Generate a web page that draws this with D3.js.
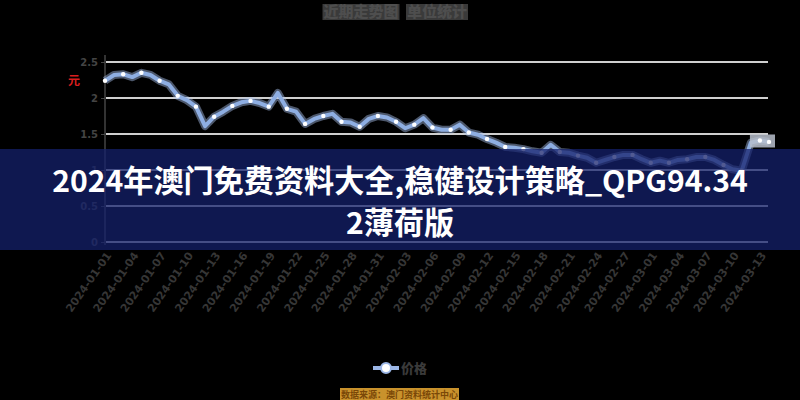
<!DOCTYPE html>
<html><head><meta charset="utf-8">
<script src="https://cdn.jsdelivr.net/npm/d3@7/dist/d3.min.js"></script>
<style>
html,body{margin:0;padding:0;background:#000;}
svg{display:block;}
</style></head>
<body>
<svg id="c" width="800" height="400"></svg>
<script>
// ---- data ----
const titleParts = ["近期走势图", "单位统计"];
const yUnit = "元";
const seriesName = "价格";
const sourceText = "数据来源：澳门资料统计中心";
const bannerLines = ["2024年澳门免费资料大全,稳健设计策略_QPG94.34", "2薄荷版"];
const yTicks = [0, 0.5, 1, 1.5, 2, 2.5];
const yTickLabels = ["0", "0.5", "1", "1.5", "2", "2.5"];
const categories = (function(){
  const out = []; const start = new Date(2024, 0, 1);
  for (let i = 0; i < 74; i++) {
    const d = new Date(start.getTime() + i * 86400000);
    out.push(d3.timeFormat("%Y-%m-%d")(d));
  }
  return out;
})();
const values = [2.24,2.32,2.33,2.29,2.35,2.32,2.24,2.19,2.03,1.97,
  1.88,1.61,1.74,1.81,1.89,1.94,1.96,1.93,1.88,2.07,
  1.85,1.81,1.64,1.71,1.75,1.78,1.67,1.66,1.60,1.71,
  1.75,1.73,1.67,1.58,1.63,1.72,1.59,1.56,1.56,1.63,
  1.52,1.49,1.43,1.38,1.32,1.31,1.29,1.26,1.24,1.35,
  1.25,1.24,1.20,1.17,1.10,1.14,1.18,1.21,1.21,1.15,
  1.10,1.13,1.10,1.14,1.15,1.18,1.18,1.14,1.07,1.01,
  0.99,1.38,1.41,1.39];

// ---- layout ----
const svg = d3.select("#c");
const W = 800, H = 400;
const plot = {left: 105, right: 769, top: 62, bottom: 242};
const gridRight = 768;

const x = d3.scalePoint().domain(categories).range([plot.left, plot.right]);
const y = d3.scaleLinear().domain([0, 2.5]).range([plot.bottom, plot.top]);

// title
const tg = svg.append("g");
const titleX = [361, 437];
titleParts.forEach((t, i) => {
  const txt = tg.append("text").attr("x", titleX[i]).attr("y", 17)
    .attr("text-anchor", "middle")
    .attr("font-family", "Noto Sans CJK SC")
    .attr("font-weight", 900).attr("font-size", 15)
    .attr("fill", "#4e4e4e").text(t);
  const bb = txt.node().getBBox();
  tg.insert("rect", "text").attr("x", bb.x - 1).attr("y", 4)
    .attr("width", bb.width + 2).attr("height", 16).attr("fill", "#3a3a3a");
});

// grid
svg.append("g").selectAll("line").data(yTicks).join("line")
  .attr("x1", plot.left).attr("x2", gridRight)
  .attr("y1", d => y(d)).attr("y2", d => y(d))
  .attr("stroke", "#cfcfcf").attr("stroke-width", 2);

// y axis
const yAxis = d3.axisLeft(y).tickValues(yTicks)
  .tickFormat((d, i) => yTickLabels[i]).tickSize(4).tickPadding(3);
const ya = svg.append("g").attr("transform", `translate(${plot.left},0)`).call(yAxis);
ya.select(".domain").attr("stroke", "#333").attr("stroke-width", 2)
  .attr("d", `M0,${plot.top - 7}V${plot.bottom + 3}`);
ya.selectAll(".tick line").attr("stroke", "#444");
ya.selectAll(".tick text").attr("fill", "#444")
  .attr("font-family", "DejaVu Sans").attr("font-weight", "bold").attr("font-size", 10);

// unit label (red)
svg.append("text").attr("x", 74).attr("y", 85).attr("text-anchor", "middle")
  .attr("font-family", "Noto Sans CJK SC").attr("font-weight", "bold")
  .attr("font-size", 12).attr("fill", "#d81e1e").text(yUnit);

// x axis labels
const xa = d3.axisBottom(x)
  .tickValues(categories.filter((d, i) => i % 3 === 0))
  .tickSize(0).tickPadding(0);
const xg = svg.append("g").attr("transform", `translate(0,${plot.bottom + 9})`).call(xa);
xg.select(".domain").remove();
xg.selectAll(".tick text")
  .attr("fill", "#363636").attr("font-family", "DejaVu Sans")
  .attr("font-weight", "bold").attr("font-size", 11)
  .attr("text-anchor", "end").attr("dy", "0.7em")
  .attr("transform", "rotate(-55)");

// line
const line = d3.line().x((d, i) => x(categories[i])).y(d => y(d));
svg.append("path").datum(values).attr("d", line)
  .attr("fill", "none").attr("stroke", "#a9c2ee").attr("stroke-opacity", 0.45)
  .attr("stroke-width", 8).attr("stroke-linejoin", "round");
svg.append("path").datum(values).attr("d", line)
  .attr("fill", "none").attr("stroke", "#8eaee2")
  .attr("stroke-width", 4).attr("stroke-linejoin", "round");

// highlight box near last points
const n = values.length;
const lastX = x(categories[n - 2]), lastY = y(values[n - 2]);
svg.append("rect").attr("x", lastX - 10).attr("y", lastY - 6)
  .attr("width", x(categories[n - 1]) - lastX + 16).attr("height", 13)
  .attr("fill", "#b9bfcc").attr("opacity", 0.85);

// dots
svg.append("g").selectAll("circle")
  .data(values.map((v, i) => ({v, i})).filter(d => d.i % 2 === 0 || d.i === n - 1))
  .join("circle")
  .attr("cx", d => x(categories[d.i])).attr("cy", d => y(d.v))
  .attr("r", 2.2).attr("fill", "#ffffff");

// legend
const lg = svg.append("g").attr("transform", "translate(386,368)");
lg.append("line").attr("x1", -13).attr("x2", 13).attr("stroke", "#9bb6e6").attr("stroke-width", 4);
lg.append("circle").attr("r", 5).attr("fill", "#fff").attr("stroke", "#9bb6e6").attr("stroke-width", 2);
lg.append("text").attr("x", 15).attr("y", 5)
  .attr("font-family", "Noto Sans CJK SC").attr("font-weight", 900)
  .attr("font-size", 13).attr("fill", "#3a3a3a").text(seriesName);

// source bar
svg.append("rect").attr("x", 340).attr("y", 388).attr("width", 119).attr("height", 12)
  .attr("fill", "#c9922c");
svg.append("text").attr("x", 399.5).attr("y", 397.5).attr("text-anchor", "middle")
  .attr("font-family", "Noto Sans CJK SC").attr("font-weight", "bold")
  .attr("font-size", 9).attr("fill", "#7a4808").text(sourceText);

// banner overlay
svg.append("rect").attr("x", 0).attr("y", 149).attr("width", W).attr("height", 101)
  .attr("fill", "rgb(20,33,108)").attr("opacity", 0.74);
const bt = svg.append("g");
const fs = 27;
const l1 = bt.append("text").attr("x", 400).attr("y", 192).attr("text-anchor", "middle")
  .attr("font-family", "Noto Sans CJK SC").attr("font-weight", "bold")
  .attr("font-size", fs).attr("fill", "#fff").text(bannerLines[0]);
// fit first line to reference width
const targetW = 696;
const w0 = l1.node().getComputedTextLength();
const fs2 = fs * targetW / w0;
l1.attr("font-size", fs2);
bt.append("text").attr("x", 400).attr("y", 192 + fs2 * 1.38).attr("text-anchor", "middle")
  .attr("font-family", "Noto Sans CJK SC").attr("font-weight", "bold")
  .attr("font-size", fs2).attr("fill", "#fff").text(bannerLines[1]);
</script>
</body></html>
